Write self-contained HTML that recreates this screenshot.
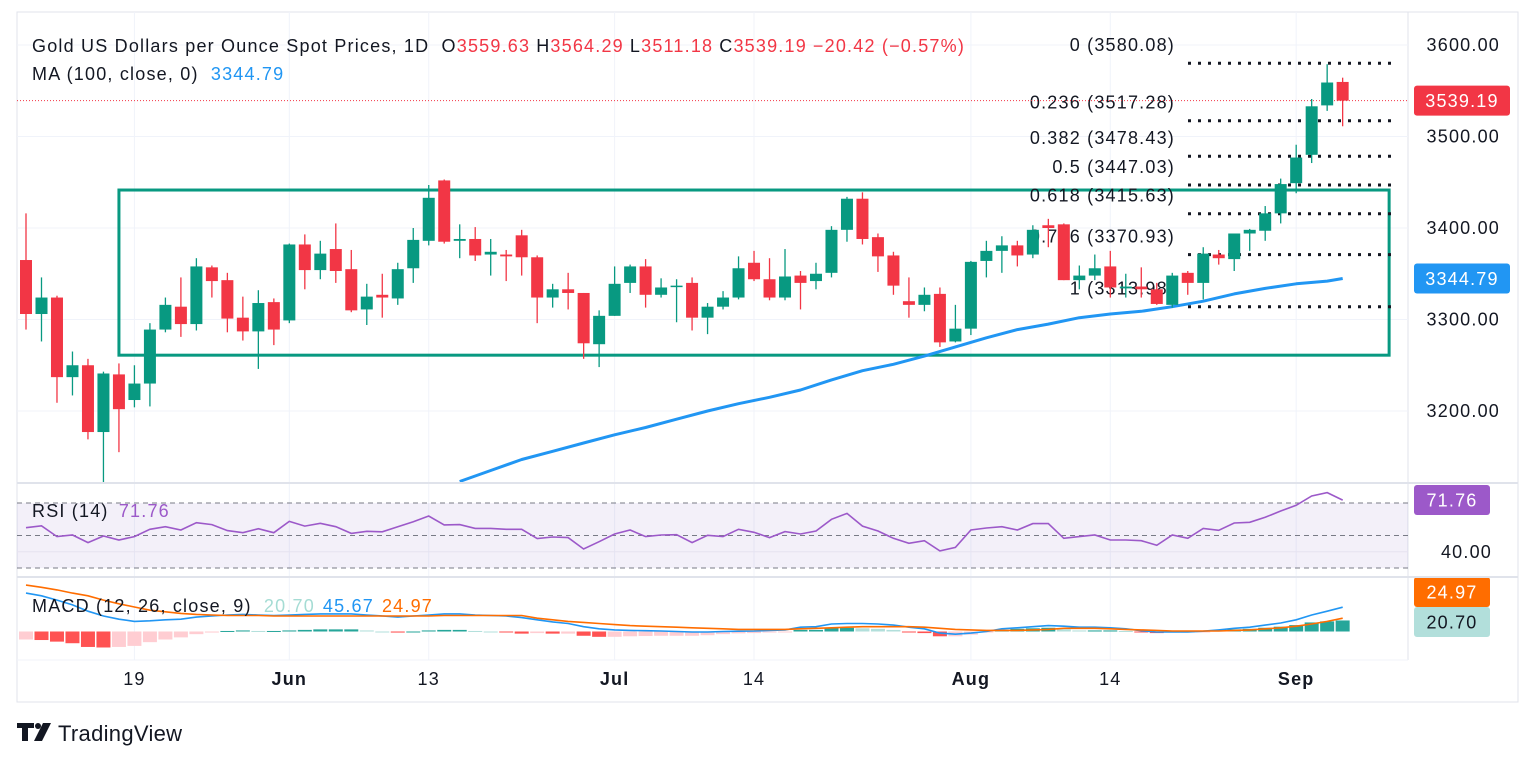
<!DOCTYPE html>
<html><head><meta charset="utf-8">
<style>
html,body{margin:0;padding:0;background:#fff;}
svg{display:block;font-family:"Liberation Sans",sans-serif;}
svg text{letter-spacing:1.2px;}
</style></head>
<body>
<svg id="chart" width="1536" height="764" viewBox="0 0 1536 764" xmlns="http://www.w3.org/2000/svg">
  <rect x="0" y="0" width="1536" height="764" fill="#ffffff"/>
  <rect x="17" y="12" width="1501" height="690" fill="none" stroke="#E0E3EB" stroke-width="1"/>
  <line x1="1408" y1="12" x2="1408" y2="660" stroke="#E0E3EB"/>
  <g id="grid"></g>
  <g id="rsiBg"></g>
  <g id="rect"></g>
  <g id="fib"></g>
  <clipPath id="mainClip"><rect x="17" y="12" width="1391" height="471"/></clipPath>
  <g id="ma" clip-path="url(#mainClip)"></g>
  <g id="candles"></g>
  <g id="rsi"></g>
  <g id="macd"></g>
  <g id="axis"></g>
  <line x1="17" y1="483" x2="1518" y2="483" stroke="#E0E3EB" stroke-width="2"/>
  <line x1="17" y1="577" x2="1518" y2="577" stroke="#E0E3EB" stroke-width="2"/>
  <line x1="17" y1="660" x2="1408" y2="660" stroke="#F0F3FA" stroke-width="1"/>

  <text x="32" y="52" font-size="18" fill="#131722">Gold US Dollars per Ounce Spot Prices, 1D <tspan dx="6">O</tspan><tspan fill="#F23645">3559.63</tspan><tspan dx="6">H</tspan><tspan fill="#F23645">3564.29</tspan><tspan dx="6">L</tspan><tspan fill="#F23645">3511.18</tspan><tspan dx="6">C</tspan><tspan fill="#F23645">3539.19</tspan><tspan dx="6" fill="#F23645">−20.42 (−0.57%)</tspan></text>
  <text x="32" y="80" font-size="18" fill="#131722">MA (100, close, 0) <tspan dx="6" fill="#2196F3">3344.79</tspan></text>
  <text x="32" y="517" font-size="18" fill="#131722">RSI (14) <tspan dx="4" fill="#9C59C9">71.76</tspan></text>
  <text x="32" y="612" font-size="18" fill="#131722">MACD (12, 26, close, 9) <tspan dx="6" fill="#A5DCD4">20.70</tspan><tspan dx="8" fill="#2196F3">45.67</tspan><tspan dx="8" fill="#FF6D00">24.97</tspan></text>

  <g>
    <path d="M17 723 h17 v5 h-6 v13 h-6 v-13 h-5 z" fill="#131722"/>
    <circle cx="38" cy="726" r="3" fill="#131722"/>
    <path d="M43 723 h8 l-9 18 h-8 z" fill="#131722"/>
    <text x="58" y="741" font-size="22" fill="#131722" style="letter-spacing:0.3px">TradingView</text>
  </g>
</svg>
<script>
const opens=[3365,3306,3324,3237,3250,3177,3240,3212,3230,3289,3314,3295,3357,3343,3302,3287,3319,3299,3382,3354,3377,3355,3311,3327,3323,3356,3386,3452,3386,3388,3371,3371,3392,3368,3324,3333,3329,3273,3304,3340,3358,3327,3336,3340,3302,3314,3324,3362,3344,3324,3348,3342,3351,3398,3432,3390,3370,3320,3316,3328,3276,3290,3364,3375,3381,3371,3403,3404,3343,3348,3358,3334,3336,3333,3316,3351,3340,3371,3366,3394,3397,3416,3449,3480,3534,3559.63];
const highs=[3416,3346,3326,3265,3257,3243,3252,3250,3296,3324,3346,3367,3359,3351,3325,3332,3323,3383,3393,3386,3405,3376,3339,3350,3362,3400,3447,3453,3404,3401,3388,3376,3398,3370,3339,3351,3329,3310,3358,3360,3366,3345,3344,3346,3318,3331,3369,3375,3367,3377,3353,3362,3402,3434,3439,3394,3374,3346,3335,3335,3316,3364,3386,3391,3386,3403,3410,3405,3359,3371,3375,3350,3357,3340,3351,3353,3379,3376,3394,3399,3424,3454,3491,3541,3579,3564.29];
const lows=[3289,3276,3209,3217,3169,3122,3155,3204,3205,3286,3281,3288,3324,3286,3277,3246,3272,3296,3333,3344,3340,3308,3294,3302,3316,3340,3381,3383,3367,3364,3348,3342,3348,3296,3313,3311,3257,3248,3304,3329,3313,3324,3297,3288,3284,3311,3322,3342,3321,3321,3311,3333,3346,3385,3382,3352,3327,3302,3309,3270,3275,3283,3346,3351,3358,3367,3379,3343,3333,3343,3324,3324,3324,3316,3313,3327,3322,3360,3353,3375,3386,3405,3438,3471,3528,3511.18];
const closes=[3306,3324,3237,3250,3177,3241,3202,3230,3289,3316,3295,3358,3342,3301,3287,3318,3289,3382,3354,3372,3353,3310,3325,3324,3355,3387,3433,3385,3388,3370,3374,3369,3368,3324,3333,3329,3274,3304,3339,3358,3327,3335,3337,3302,3314,3324,3356,3344,3324,3347,3340,3350,3398,3432,3388,3369,3337,3316,3327,3275,3290,3363,3375,3381,3370,3398,3400,3343,3348,3356,3335,3336,3333,3317,3348,3340,3372,3367,3394,3398,3416,3448,3477,3533,3559,3539.19];
const maIdx=[28,30,32,34,36,38,40,42,44,46,48,50,52,54,56,58,60,62,64,66,68,70,72,74,76,78,80,82,84,85];
const maVals=[3123,3135,3147,3156,3165,3174,3182,3191,3200,3208,3215,3223,3234,3244,3251,3260,3270,3280,3289,3295,3302,3306,3309,3314,3320,3328,3334,3339,3342,3344.79];
const rsiVals=[54.8,56.0,49.3,50.3,45.6,49.7,47.2,49.3,53.8,55.4,53.4,57.9,56.7,53,51.7,54.2,51.7,58.7,55.8,57.5,55.4,51.3,52.6,52.3,55.4,58.5,62,56.5,56.7,54.4,54.4,53.8,53.8,48.1,49.1,48.7,41.7,46.2,50.9,53.4,49.3,50.3,50.5,45.6,50.1,49.3,53.8,52.0,48.7,52.4,50.9,52.8,60,63.6,55.8,52.8,48.3,45.2,46.8,40.5,42.7,53.4,54.6,55.4,53.4,57.3,57.3,48.3,49.3,50.3,47.2,47.2,46.8,44,50.3,48.3,54.4,53.2,57.7,58.1,61.2,65.1,68.6,74.3,76.4,71.76];
const macdVals=[72,67,59,50,38,29,23,19,20,22,23,27,29,31,32,31,30,31,32,33,33,33,31,29,27,29,31,33,33,31,30,29,26,22,18,15,9,5,3,2,1.5,1,0,-1,-1,0,0.5,1,2,3,8,9,14,15,15,14,12,8,5,-3,-5,-3,0,5,7,9,11,10,8,8,7,5,1.5,-1,-1,-1,0.5,3,6,8,12,16,22,31,38,45.67];
const signalVals=[87,83,78,72,67,59,52,46,40,37,34,32,31,30,30,30,29,29,29,29,29,29,29,29,29,29,29,30,30,30,30,30,30,25,22,19,17,15,13,11,10,9,8,7,6,5,4,4,4,4,5,6,7,8,9,9,9,9,8,6,4,3,2,2,2,3,4,6,6,6,5,4,3,2,1,1,1,1,2,3,5,7,10,14,19,24.97];
const priceTicks=[3600,3500,3400,3300,3200];
const priceTickLabels=["3600.00","3500.00","3400.00","3300.00","3200.00"];
const timeTickIdx=[7,17,26,38,47,61,70,82];
const timeTickLabels=["19","Jun","13","Jul","14","Aug","14","Sep"];
const fibRatios=["0","0.236","0.382","0.5","0.618","0.786","1"];
const fibPrices=[3580.08,3517.28,3478.43,3447.03,3415.63,3370.93,3313.98];
const rectBox=[6,88,3441.5,3261];
const lastPrice=3539.19, lastMA=3344.79, lastRSI=71.76, lastMACD=45.67, lastSignal=24.97, lastHist=20.70;

const NS="http://www.w3.org/2000/svg";
const xOf=i=>26+15.49*i;
const yP=p=>45+(3600-p)*0.915;
const yR=r=>503+(70-r)*1.625;
const yM=v=>631.5-v*0.533;
function mk(tag,attrs,parent){const e=document.createElementNS(NS,tag);for(const k in attrs)e.setAttribute(k,attrs[k]);parent.appendChild(e);return e;}
const G=id=>document.getElementById(id);

const grid=G('grid');
priceTicks.forEach(p=>{const l=mk('line',{x1:17,x2:1408,y1:yP(p),y2:yP(p),stroke:'#F0F3FA','stroke-width':1},grid);

});
timeTickIdx.forEach(i=>{const l=mk('line',{x1:xOf(i),x2:xOf(i),y1:12,y2:660,stroke:'#F0F3FA','stroke-width':1},grid);

});

const rb=G('rsiBg');
const band=mk('rect',{x:17,y:yR(70),width:1391,height:yR(30)-yR(70),fill:'#7E57C2','fill-opacity':0.09},rb);


const g40=mk('line',{x1:17,x2:1408,y1:yR(40),y2:yR(40),stroke:'#E6E2F0','stroke-width':1},rb);


[70,50,30].forEach(v=>{const l=mk('line',{x1:17,x2:1408,y1:yR(v),y2:yR(v),stroke:'#787B86','stroke-width':1,'stroke-dasharray':'5 4'},rb);

});

const rc=mk('rect',{x:xOf(rectBox[0]),y:yP(rectBox[2]),width:xOf(rectBox[1])-xOf(rectBox[0]),height:yP(rectBox[3])-yP(rectBox[2]),fill:'none',stroke:'#089981','stroke-width':3},G('rect'));



const fg=G('fib');
fibPrices.forEach((p,k)=>{const y=yP(p);
const l=mk('line',{x1:1188,x2:1392,y1:y,y2:y,stroke:'#131722','stroke-width':3,'stroke-dasharray':'3 7'},fg);


const t=mk('text',{x:1175,y:y-12,'font-size':18,fill:'#131722','text-anchor':'end'},fg);
t.textContent=fibRatios[k]+' ('+p.toFixed(2)+')';

});

const lp=mk('line',{x1:17,x2:1408,y1:yP(lastPrice),y2:yP(lastPrice),stroke:'#F23645','stroke-width':1,'stroke-dasharray':'1 2'},G('fib'));



let d='';maIdx.forEach((i,k)=>{d+=(k?'L':'M')+xOf(i).toFixed(1)+' '+yP(maVals[k]).toFixed(1);});
const mp=mk('path',{d:d,fill:'none',stroke:'#2196F3','stroke-width':3,'stroke-linejoin':'round'},G('ma'));



const cg=G('candles');
opens.forEach((o,i)=>{const c=closes[i];const up=c>=o;const col=up?'#089981':'#F23645';const x=xOf(i);
const g=mk('g',{},cg);


mk('line',{x1:x,x2:x,y1:yP(highs[i]),y2:yP(lows[i]),stroke:col,'stroke-width':1.3},g);
const top=yP(Math.max(o,c)),bot=yP(Math.min(o,c));
mk('rect',{x:x-6,y:top,width:12,height:Math.max(1.5,bot-top),fill:col},g);});

let rd='';rsiVals.forEach((r,i)=>{rd+=(i?'L':'M')+xOf(i).toFixed(1)+' '+yR(r).toFixed(1);});
const rp=mk('path',{d:rd,fill:'none',stroke:'#9C59C9','stroke-width':1.6},G('rsi'));



const mg=G('macd');
macdVals.forEach((m,i)=>{const h=m-signalVals[i];const prev=i?macdVals[i-1]-signalVals[i-1]:h;
let col;if(h>=0)col=h>=prev?'#26A69A':'#B2DFDB';else col=h<prev?'#FF5252':'#FFCDD2';
const y0=yM(0),y1=yM(h);
const b=mk('rect',{x:xOf(i)-7,y:Math.min(y0,y1),width:14,height:Math.max(1,Math.abs(y1-y0)),fill:col},mg);

});
let md='',sd='';macdVals.forEach((m,i)=>{md+=(i?'L':'M')+xOf(i).toFixed(1)+' '+yM(m).toFixed(1);sd+=(i?'L':'M')+xOf(i).toFixed(1)+' '+yM(signalVals[i]).toFixed(1);});
const ml=mk('path',{d:md,fill:'none',stroke:'#2196F3','stroke-width':1.6},mg);


const sl=mk('path',{d:sd,fill:'none',stroke:'#FF6D00','stroke-width':1.6},mg);



const ax=G('axis');
priceTicks.forEach((p,k)=>{const t=mk('text',{x:1500,y:yP(p)+6,'font-size':18,fill:'#131722','text-anchor':'end'},ax);
t.textContent=priceTickLabels[k];

});
const t40=mk('text',{x:1492,y:yR(40)+6,'font-size':18,fill:'#131722','text-anchor':'end'},ax);
t40.textContent='40.00';


timeTickIdx.forEach((i,k)=>{const t=mk('text',{x:xOf(i),y:685,'font-size':18,fill:'#131722','text-anchor':'middle','font-weight':(timeTickLabels[k].length>2?'bold':'normal')},ax);
t.textContent=timeTickLabels[k];

});
function tag(y,w,bg,fg,txt,name){const g=mk('g',{},ax);


mk('rect',{x:1414,y:y-15,width:w,height:30,rx:3,fill:bg},g);
const t=mk('text',{x:1414+w/2,y:y+6.5,'font-size':18,fill:fg,'text-anchor':'middle'},g);t.textContent=txt;}
tag(yP(lastPrice),96,'#F23645','#fff',lastPrice.toFixed(2),'last-price-tag');
tag(yP(lastMA),96,'#2196F3','#fff',lastMA.toFixed(2),'ma-value-tag');
tag(500,76,'#9C59C9','#fff',lastRSI.toFixed(2),'rsi-value-tag');
tag(592,76,'#FF6D00','#fff',lastSignal.toFixed(2),'signal-value-tag');
tag(622,76,'#B2DFDB','#131722',lastHist.toFixed(2),'histogram-value-tag');
</script>
</body></html>
